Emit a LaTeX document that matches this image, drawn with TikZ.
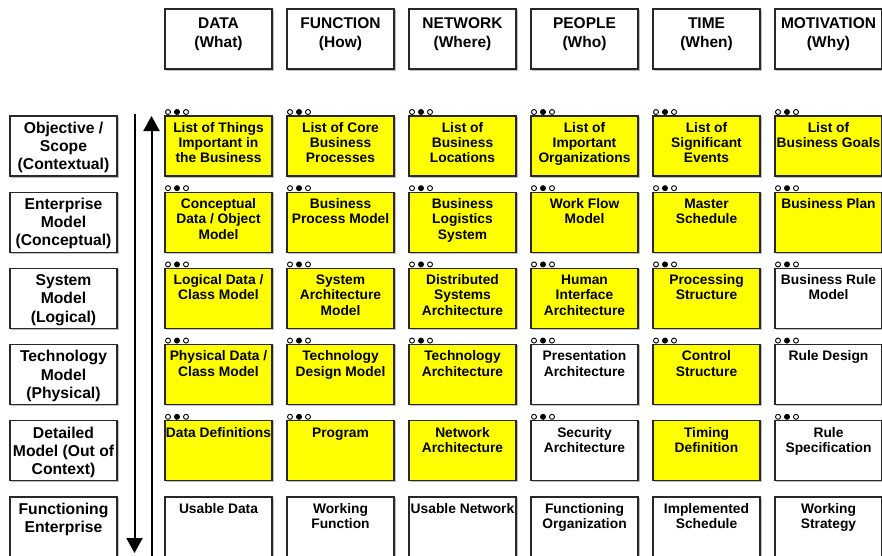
\documentclass[tikz,border=0pt]{standalone}
\usepackage{fontspec}
\setmainfont{Liberation Sans}
\usetikzlibrary{calc,arrows.meta}
\definecolor{zyellow}{RGB}{255,255,0}
\definecolor{zborder}{RGB}{40,40,40}
\tikzset{
  cellbox/.style={draw=zborder, line width=1.1pt, minimum width=107pt, minimum height=60pt,
    inner sep=0pt, outer sep=0pt, anchor=north west,
    preaction={draw=gray!50, line width=0.9pt, transform canvas={xshift=1pt,yshift=-1pt}}},
  celltext/.style={anchor=north, inner sep=0pt, align=center,
    font=\fontsize{13.8}{15.3}\selectfont\bfseries},
  headtext/.style={anchor=north, inner sep=0pt, align=center,
    font=\fontsize{15.5}{18.7}\selectfont\bfseries},
  rowtext/.style={anchor=north, inner sep=0pt, align=center,
    font=\fontsize{15.7}{18.2}\selectfont\bfseries},
  dotopen/.style={draw=black, line width=0.9pt, fill=white},
  dotfull/.style={draw=black, line width=0.9pt, fill=black},
  bigarrow/.style={line width=2pt, -{Triangle[length=15pt,width=16pt]}}
}
\newcommand\zcell[5]{%
  \node[cellbox, fill=#4] (#1) at (#2,#3) {};
  \node[celltext] (#1-t) at ($(#1.north)+(0,3)$) {\rule{0pt}{13pt}#5};
}
\newcommand\zhead[3]{%
  \node[cellbox, fill=white] (#1) at (#2,9) {};
  \node[headtext] (#1-t) at ($(#1.north)+(0,6.3)$) {\rule{0pt}{13pt}#3};
}
\newcommand\zrow[3]{%
  \node[cellbox, fill=white] (#1) at (10,#2) {};
  \node[rowtext] (#1-t) at ($(#1.north)+(0,4)$) {\rule{0pt}{13pt}#3};
}
\newcommand\zdots[1]{%
  \draw[dotopen] ($(#1.north west)+(3,-4)$) circle[radius=2.5pt];
  \draw[dotfull] ($(#1.north west)+(12,-4)$) circle[radius=2.5pt];
  \draw[dotopen] ($(#1.north west)+(21,-4)$) circle[radius=2.5pt];
}
\begin{document}
\begin{tikzpicture}[x=1pt,y=-1pt]
\useasboundingbox (0,0) rectangle (882,555);
\clip (0,0) rectangle (882,555);
\fill[white] (0,0) rectangle (882,555);
% headers
\zhead{hdata}{165}{DATA\\(What)}
\zhead{hfunc}{287}{FUNCTION\\(How)}
\zhead{hnet}{409}{NETWORK\\(Where)}
\zhead{hpeople}{531}{PEOPLE\\(Who)}
\zhead{htime}{653}{TIME\\(When)}
\zhead{hmot}{775}{MOTIVATION\\(Why)}
% row labels
\zrow{robj}{116}{Objective /\\Scope\\(Contextual)}
\zrow{rent}{192.2}{Enterprise\\Model\\(Conceptual)}
\zrow{rsys}{268.4}{System\\Model\\(Logical)}
\zrow{rtech}{344.6}{Technology\\Model\\(Physical)}
\zrow{rdet}{420.8}{Detailed\\Model (Out of\\Context)}
\zrow{rfun}{497}{Functioning\\Enterprise}
% row 1
\zcell{a1}{165}{116}{zyellow}{List of Things\\Important in\\the Business}
\zcell{b1}{287}{116}{zyellow}{List of Core\\Business\\Processes}
\zcell{c1}{409}{116}{zyellow}{List of\\Business\\Locations}
\zcell{d1}{531}{116}{zyellow}{List of\\Important\\Organizations}
\zcell{e1}{653}{116}{zyellow}{List of\\Significant\\Events}
\zcell{f1}{775}{116}{zyellow}{List of\\Business Goals}
% row 2
\zcell{a2}{165}{192.2}{zyellow}{Conceptual\\Data / Object\\Model}
\zcell{b2}{287}{192.2}{zyellow}{Business\\Process Model}
\zcell{c2}{409}{192.2}{zyellow}{Business\\Logistics\\System}
\zcell{d2}{531}{192.2}{zyellow}{Work Flow\\Model}
\zcell{e2}{653}{192.2}{zyellow}{Master\\Schedule}
\zcell{f2}{775}{192.2}{zyellow}{Business Plan}
% row 3
\zcell{a3}{165}{268.4}{zyellow}{Logical Data /\\Class Model}
\zcell{b3}{287}{268.4}{zyellow}{System\\Architecture\\Model}
\zcell{c3}{409}{268.4}{zyellow}{Distributed\\Systems\\Architecture}
\zcell{d3}{531}{268.4}{zyellow}{Human\\Interface\\Architecture}
\zcell{e3}{653}{268.4}{zyellow}{Processing\\Structure}
\zcell{f3}{775}{268.4}{white}{Business Rule\\Model}
% row 4
\zcell{a4}{165}{344.6}{zyellow}{Physical Data /\\Class Model}
\zcell{b4}{287}{344.6}{zyellow}{Technology\\Design Model}
\zcell{c4}{409}{344.6}{zyellow}{Technology\\Architecture}
\zcell{d4}{531}{344.6}{white}{Presentation\\Architecture}
\zcell{e4}{653}{344.6}{zyellow}{Control\\Structure}
\zcell{f4}{775}{344.6}{white}{Rule Design}
% row 5
\zcell{a5}{165}{420.8}{zyellow}{Data Definitions}
\zcell{b5}{287}{420.8}{zyellow}{Program}
\zcell{c5}{409}{420.8}{zyellow}{Network\\Architecture}
\zcell{d5}{531}{420.8}{white}{Security\\Architecture}
\zcell{e5}{653}{420.8}{zyellow}{Timing\\Definition}
\zcell{f5}{775}{420.8}{white}{Rule\\Specification}
% row 6
\zcell{a6}{165}{497}{white}{Usable Data}
\zcell{b6}{287}{497}{white}{Working\\Function}
\zcell{c6}{409}{497}{white}{Usable Network}
\zcell{d6}{531}{497}{white}{Functioning\\Organization}
\zcell{e6}{653}{497}{white}{Implemented\\Schedule}
\zcell{f6}{775}{497}{white}{Working\\Strategy}
% dots
\foreach \n in {a1,b1,c1,d1,e1,f1,a2,b2,c2,d2,e2,f2,a3,b3,c3,d3,e3,f3,a4,b4,c4,d4,e4,f4,a5,b5,d5,f5}{\zdots{\n}}
% arrows
\coordinate (dtop) at (134.5,113.5);
\coordinate (dbot) at (134.5,553);
\coordinate (ubot) at (151.5,558);
\coordinate (utop) at (151.5,116);
\draw[bigarrow] (dtop) -- (dbot);
\draw[bigarrow] (ubot) -- (utop);
\end{tikzpicture}
\end{document}
